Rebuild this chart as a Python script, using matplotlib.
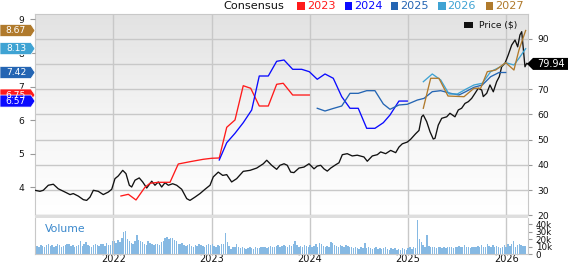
import numpy as np
import matplotlib
matplotlib.use('Agg')
import matplotlib.pyplot as plt
from matplotlib.patches import Polygon, Rectangle
from matplotlib.transforms import IdentityTransform
from matplotlib.colors import LinearSegmentedColormap

W, H = 568, 264

# ---------------- data ----------------
price_t = [2021.203, 2021.254, 2021.288, 2021.339, 2021.390, 2021.440, 2021.509, 2021.560,
           2021.593, 2021.644, 2021.695, 2021.729, 2021.763, 2021.797, 2021.847, 2021.898,
           2021.949, 2021.984, 2022.017, 2022.051, 2022.096, 2022.129, 2022.163, 2022.187,
           2022.221, 2022.264, 2022.299, 2022.340, 2022.391, 2022.424, 2022.458, 2022.492,
           2022.526, 2022.560, 2022.604, 2022.645, 2022.696, 2022.747, 2022.780, 2022.831,
           2022.882, 2022.933, 2022.984, 2023.017, 2023.068, 2023.113, 2023.154, 2023.204,
           2023.255, 2023.322, 2023.391, 2023.459, 2023.526, 2023.561, 2023.611, 2023.662,
           2023.696, 2023.737, 2023.770, 2023.805, 2023.838, 2023.889, 2023.940, 2023.991,
           2024.042, 2024.075, 2024.110, 2024.143, 2024.177, 2024.212, 2024.262, 2024.296,
           2024.330, 2024.380, 2024.431, 2024.482, 2024.550, 2024.584, 2024.635, 2024.686,
           2024.720, 2024.771, 2024.822, 2024.873, 2024.906, 2024.940, 2024.991, 2025.025,
           2025.076, 2025.110, 2025.137, 2025.154, 2025.188, 2025.222, 2025.255, 2025.273,
           2025.306, 2025.341, 2025.392, 2025.425, 2025.476, 2025.510, 2025.544, 2025.578,
           2025.612, 2025.646, 2025.680, 2025.713, 2025.748, 2025.764, 2025.799, 2025.832,
           2025.866, 2025.900, 2025.927, 2025.951, 2025.985, 2026.018, 2026.053, 2026.087,
           2026.114, 2026.137, 2026.155, 2026.171, 2026.188, 2026.206, 2026.220]
price_v = [29.9, 29.5, 29.9, 31.9, 32.3, 30.5, 29.2, 28.2,
           28.6, 27.6, 26.2, 25.9, 27.2, 29.9, 29.5, 28.2,
           29.2, 30.3, 34.5, 35.6, 37.8, 36.5, 31.9, 31.2,
           33.9, 34.8, 33.2, 30.8, 33.5, 31.9, 33.2, 31.2,
           32.9, 31.9, 32.5, 31.9, 30.3, 26.6, 25.9, 27.2,
           28.6, 30.3, 31.9, 35.2, 37.1, 35.8, 36.1, 33.2,
           34.5, 37.4, 37.8, 38.7, 40.4, 41.8, 39.8, 38.2,
           39.8, 40.4, 39.8, 37.1, 36.9, 38.7, 39.1, 40.4,
           38.4, 39.5, 39.8, 38.4, 37.5, 38.7, 40.0, 40.8,
           44.0, 44.4, 43.5, 43.8, 43.1, 41.4, 43.5, 44.0,
           45.1, 44.4, 45.7, 44.8, 47.0, 48.3, 49.0, 50.1,
           52.3, 53.6, 59.0, 59.7, 57.1, 53.1, 50.2, 50.5,
           55.7, 58.4, 59.0, 60.4, 59.0, 61.7, 62.4, 64.3,
           65.0, 66.3, 68.3, 70.3, 69.6, 67.0, 68.3, 71.6,
           68.9, 72.9, 74.9, 78.8, 80.2, 83.5, 87.4, 89.4,
           86.7, 91.4, 92.7, 86.1, 78.8, 80.2, 79.94]

eps23_t = [2022.078, 2022.153, 2022.231, 2022.322, 2022.373, 2022.458, 2022.577, 2022.661,
           2022.780, 2022.916, 2023.001, 2023.078, 2023.154, 2023.238, 2023.322, 2023.398,
           2023.485, 2023.577, 2023.662, 2023.729, 2023.825, 2023.994]
eps23_v = [3.745, 3.795, 3.626, 4.004, 4.123, 4.152, 4.152, 4.697,
           4.765, 4.837, 4.867, 4.876, 5.789, 6.007, 7.027, 6.95,
           6.423, 6.423, 7.069, 7.099, 6.75, 6.75]

eps24_t = [2023.078, 2023.154, 2023.238, 2023.322, 2023.408, 2023.485, 2023.577, 2023.662,
           2023.737, 2023.825, 2023.917, 2023.994, 2024.075, 2024.154, 2024.238, 2024.324,
           2024.408, 2024.492, 2024.578, 2024.662, 2024.747, 2024.815, 2024.906, 2024.991]
eps24_v = [4.816, 5.33, 5.61, 5.926, 6.304, 7.316, 7.316, 7.753,
           7.792, 7.515, 7.515, 7.444, 7.218, 7.376, 7.248, 6.70,
           6.355, 6.355, 5.759, 5.759, 5.926, 6.155, 6.57, 6.57]

eps25_t = [2024.075, 2024.154, 2024.238, 2024.324, 2024.408, 2024.492, 2024.578, 2024.662,
           2024.747, 2024.815, 2024.906, 2024.991, 2025.093, 2025.161, 2025.245, 2025.331,
           2025.432, 2025.517, 2025.585, 2025.669, 2025.754, 2025.839, 2025.924, 2025.992]
eps25_v = [6.355, 6.274, 6.35, 6.423, 6.80, 6.80, 6.879, 6.879,
           6.483, 6.325, 6.453, 6.474, 6.60, 6.65, 6.849, 6.879,
           6.80, 6.751, 6.849, 6.98, 7.048, 7.295, 7.42, 7.42]

eps26_t = [2025.154, 2025.245, 2025.331, 2025.415, 2025.500, 2025.585, 2025.669, 2025.754,
           2025.839, 2025.941, 2025.992, 2026.076, 2026.127, 2026.195]
eps26_v = [7.146, 7.376, 7.197, 6.78, 6.78, 6.92, 7.048, 7.099,
           7.444, 7.593, 7.712, 7.643, 7.843, 8.13]

eps27_t = [2025.154, 2025.229, 2025.313, 2025.405, 2025.568, 2025.669, 2025.737, 2025.805,
           2025.890, 2025.992, 2026.076, 2026.127, 2026.195]
eps27_v = [6.355, 7.248, 7.248, 6.72, 6.70, 6.95, 6.95, 7.444,
           7.494, 7.712, 7.494, 8.09, 8.67]

vol_start = 2021.205
volume_k = [15, 11, 10, 12, 11, 10, 12, 13, 11, 12, 10, 11, 13, 12, 10, 11, 12, 14, 13, 11,
            12, 10, 11, 12, 17, 11, 13, 16, 12, 11, 10, 12, 13, 12, 11, 14, 13, 11, 15, 12, 12,
            18, 17, 15, 19, 16, 22, 30, 31, 20, 17, 15, 14, 17, 26, 19, 18, 16, 14, 12, 17, 15, 13, 12, 14, 13, 12,
            16, 18, 21, 23, 20, 22, 21, 19, 17, 14, 13, 15, 12, 11, 12, 13, 11, 10, 12, 11, 13, 12, 11, 10, 12, 13,
            12, 14, 11, 10, 12, 11, 13, 14, 28, 16, 11, 7, 9, 10, 13, 9, 8, 9, 8, 7, 8, 9, 8, 7, 9, 8,
            8, 9, 10, 9, 8, 10, 11, 10, 9, 11, 12, 10, 11, 12, 11, 9, 12, 11, 13, 17, 12, 10, 11, 9, 12, 11,
            9, 12, 10, 11, 13, 9, 15, 13, 11, 10, 11, 9, 16, 15, 12, 11, 10, 12, 11, 10, 12, 11, 10, 9, 8, 9,
            8, 7, 9, 8, 15, 8, 9, 8, 7, 8, 9, 7, 8, 7, 8, 9, 7, 6, 8, 7, 8, 6, 7, 6, 8, 7,
            6, 8, 9, 7, 10, 8, 45, 20, 16, 12, 9, 26, 11, 10, 9, 10, 8, 9, 10, 8, 9, 8, 9, 10, 9, 8,
            9, 10, 11, 9, 10, 12, 9, 10, 8, 9, 10, 9, 11, 10, 12, 9, 10, 13, 11, 10, 12, 9, 11, 10, 8, 9,
            12, 10, 14, 11, 13, 18, 10, 12, 13, 12, 11, 11]

years = [2022, 2023, 2024, 2025, 2026]
year_labels = ['2022', '2023', '2024', '2025', '2026']
series_names = ['2023', '2024', '2025', '2026', '2027']
series_colors = ['#ff1a1a', '#0a0aff', '#2465b3', '#3fa3d3', '#b07a2c']
tag_values = [8.67, 8.13, 7.42, 6.75, 6.57]
tag_colors = ['#b07a2c', '#3fa3d3', '#2465b3', '#ff1a1a', '#0a0aff']
last_price = 79.94

XMIN, XMAX = 2021.2035, 2026.219
GRID = '#c8c8c8'

plt.rcParams['font.family'] = ['DejaVu Sans']
fig = plt.figure(figsize=(W / 100, H / 100), dpi=100)
fig.patch.set_facecolor('white')

def fx(px):
    return px / W

def fy(py):
    return 1 - py / H

# main price axes
ax = fig.add_axes([fx(35), fy(215.3), (528 - 35) / W, (215.3 - 13.5) / H])
grad = np.linspace(0, 1, 256).reshape(-1, 1)
cmap = LinearSegmentedColormap.from_list('bg', ['#ffffff', '#f4f4f4', '#e2e2e2'])
ax.imshow(grad, extent=[0, 1, 0, 1], transform=ax.transAxes, aspect='auto',
          cmap=cmap, origin='lower', zorder=0)

# EPS axes (twin) - create before configuring price ticks (twinx resets them)
ax2 = ax.twinx()

ax.set_xlim(XMIN, XMAX)
ax.set_ylim(20, 99.9)
ax.set_yticks([20, 30, 40, 50, 60, 70, 80, 90])
ax.set_xticks(years)
ax.grid(True, color=GRID, lw=1.0, zorder=1)
ax.set_axisbelow(True)
ax.yaxis.tick_right()
ax.tick_params(axis='y', right=True, left=False, labelleft=False, labelright=True,
               length=3, width=0.8, color='#999999',
               labelsize=6.6, pad=3.5, labelcolor='#111111')
ax.tick_params(axis='x', bottom=False, labelbottom=False)
for s in ax.spines.values():
    s.set_color(GRID)
    s.set_linewidth(0.8)
ax.plot(price_t, price_v, color='#111111', lw=0.95, zorder=3)

ax2.set_ylim(3.17, 9.176)
ax2.set_xlim(XMIN, XMAX)
ax2.yaxis.tick_left()
ax2.set_yticks([4, 5, 6, 7, 8, 9])
ax2.tick_params(axis='y', left=True, right=False, labelleft=True, labelright=False,
                length=3.5, width=0.8, color='#999999', labelsize=6.6, pad=4.3,
                labelcolor='#111111')
for s in ax2.spines.values():
    s.set_visible(False)
for t, v, c in zip([eps23_t, eps24_t, eps25_t, eps26_t, eps27_t],
                   [eps23_v, eps24_v, eps25_v, eps26_v, eps27_v], series_colors):
    ax2.plot(t, v, color=c, lw=0.95, zorder=4)

# volume axes
axv = fig.add_axes([fx(35), fy(254), (528 - 35) / W, (254 - 217.5) / H])
axv.set_facecolor('white')
vol_t = vol_start + np.arange(len(volume_k)) / 52.18
axv.bar(vol_t, volume_k, width=0.75 / 52.18, color='#86b9e3', edgecolor='none', zorder=2)
axv.set_xlim(XMIN, XMAX)
axv.set_ylim(0, 49)
axv.set_xticks(years)
axv.set_xticklabels(year_labels)
axv.grid(True, axis='x', color=GRID, lw=1.0, zorder=1)
axv.set_axisbelow(True)
axv.yaxis.tick_right()
axv.set_yticks([0, 10, 20, 30, 40])
axv.set_yticklabels(['0', '10k', '20k', '30k', '40k'])
axv.tick_params(axis='y', right=True, left=False, length=3, width=0.8, color='#999999',
                labelsize=6.3, pad=2.5, labelcolor='#111111')
axv.tick_params(axis='x', length=0, labelsize=7, pad=0.3, labelcolor='#111111')
for s in axv.spines.values():
    s.set_color(GRID)
    s.set_linewidth(0.8)
axv.spines['top'].set_visible(False)

# separator band
fig.add_artist(Rectangle((fx(35), fy(217.6)), (528 - 35) / W, 2.3 / H,
                         transform=fig.transFigure, facecolor='#dedede', edgecolor='none'))

fig.text(fx(45), fy(229), 'Volume', color='#3a88cc', fontsize=7.8, va='center', ha='left')

# left tags
ident = IdentityTransform()
for val, col in zip(tag_values, tag_colors):
    yd = ax2.transData.transform((XMIN, val))[1]
    poly = Polygon([(0, yd - 6), (31, yd - 6), (35, yd), (31, yd + 6), (0, yd + 6)],
                   closed=True, transform=ident, facecolor=col, edgecolor='white', lw=0.5,
                   zorder=10)
    fig.add_artist(poly)
    fig.text(16 / W, yd / H, f'{val:.2f}', color='white', fontsize=6.6,
             ha='center', va='center', zorder=11)

# right price tag
yd = ax.transData.transform((XMAX, last_price))[1]
fig.add_artist(Polygon([(527, yd), (533, yd - 6), (568, yd - 6), (568, yd + 6), (533, yd + 6)],
                       closed=True, transform=ident, facecolor='#000000', edgecolor='none',
                       zorder=10))
fig.text(550.5 / W, yd / H, f'{last_price:.2f}', color='white', fontsize=7,
         ha='center', va='center', zorder=11)

# top legend
fig.text(fx(223), fy(5.8), 'Consensus', color='#111111', fontsize=8.1, ha='left', va='center')
sq_x = [297.3, 344.7, 390.7, 438.0, 485.7]
for x0, name, col in zip(sq_x, series_names, series_colors):
    fig.add_artist(Rectangle((fx(x0), fy(9.5)), 7.5 / W, 7.5 / H, transform=fig.transFigure,
                             facecolor=col, edgecolor='none'))
    fig.text(fx(x0 + 9.5), fy(5.8), name, color=col, fontsize=8.1, ha='left', va='center')

# price legend
fig.add_artist(Rectangle((fx(464), fy(28.3)), 9 / W, 6.3 / H, transform=fig.transFigure,
                         facecolor='#111111', edgecolor='none', zorder=10))
fig.text(fx(479), fy(25), 'Price ($)', color='#111111', fontsize=6.6, ha='left', va='center',
         zorder=10)

fig.savefig('out.png', dpi=100)
